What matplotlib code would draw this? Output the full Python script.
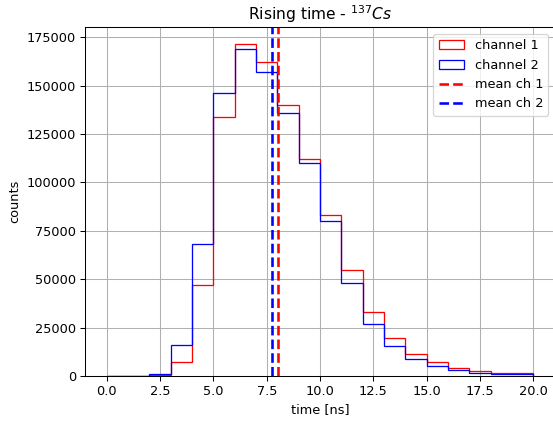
import numpy as np
import matplotlib
matplotlib.use("Agg")
import matplotlib.pyplot as plt

# bin edges [ns] and counts per bin
bin_edges = np.arange(0, 21, 1)
counts_ch1 = [0, 0, 500, 7000, 47000, 134000, 171500, 162000, 140000, 112000,
              83000, 55000, 33000, 19500, 11500, 7000, 4300, 2600, 1500, 1500]
counts_ch2 = [0, 0, 1200, 16000, 68000, 146000, 169000, 157000, 136000, 110000,
              80000, 48000, 27000, 15500, 9000, 5300, 2900, 1700, 1000, 1000]
mean_ch1 = 8.05
mean_ch2 = 7.75

centers = bin_edges[:-1] + 0.5

DPI = 93
fig = plt.figure(figsize=(553 / DPI, 423 / DPI), dpi=DPI)
ax = fig.add_axes([0.1543, 0.111, 0.849, 0.824])

ax.hist(centers, bins=bin_edges, weights=counts_ch1, histtype='step',
        color='red', label='channel 1')
ax.hist(centers, bins=bin_edges, weights=counts_ch2, histtype='step',
        color='blue', label='channel 2')
ax.axvline(mean_ch1, color='red', ls='--', lw=2, label='mean ch 1')
ax.axvline(mean_ch2, color='blue', ls='--', lw=2, label='mean ch 2')

ax.grid(True)
ax.set_title('Rising time - $^{137}Cs$')
ax.set_xlabel('time [ns]')
ax.set_ylabel('counts')
ax.legend(loc='upper right')

fig.savefig('out.png', dpi=DPI)
